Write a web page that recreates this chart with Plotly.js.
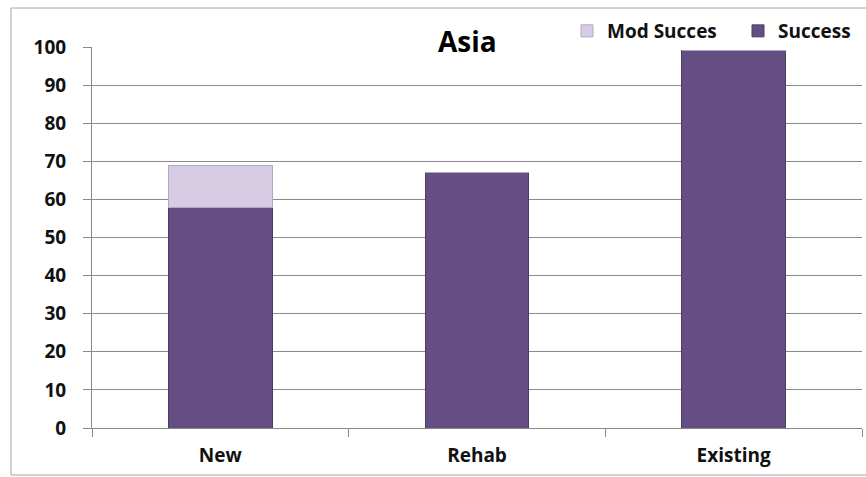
<!DOCTYPE html>
<html><head><meta charset="utf-8">
<script src="https://cdn.plot.ly/plotly-3.0.1.min.js"></script>
<style>html,body{margin:0;padding:0;background:#fff}#c{width:866px;height:477px}</style>
</head><body><div id="c"></div>
<script>
const categories = ["New", "Rehab", "Existing"];
const success = [58, 67, 99];
const modSucces = [11, 0, 0];
const yTicks = [0,10,20,30,40,50,60,70,80,90,100];
const FONT = '"Open Sans", Lato, sans-serif';

const traces = [
  {type:'bar', name:'Success', x:categories, y:success, width:0.405,
   marker:{color:'#654f82', line:{color:'#4e3c66', width:1}}},
  {type:'bar', name:'Mod Succes', x:categories, y:modSucces, width:0.405,
   marker:{color:'#d6cde4', line:{color:'#b3a5c8', width:1}}}
];

const layout = {
  width:866, height:477,
  margin:{l:92, r:4, t:47, b:49, autoexpand:false},
  barmode:'stack',
  paper_bgcolor:'#fff', plot_bgcolor:'#fff',
  font:{family:FONT, color:'#111', size:15},
  showlegend:true,
  legend:{orientation:'h', x:(567-92)/770, xanchor:'left', y:(428-31)/381, yanchor:'middle',
    traceorder:'reversed', font:{family:FONT, size:19, color:'#111', weight:'bold'},
    bgcolor:'rgba(0,0,0,0)', itemwidth:30, entrywidth:126},
  xaxis:{type:'category', showgrid:false, showline:true, linecolor:'#888', linewidth:1,
    ticks:'outside', tickson:'boundaries', ticklen:8, tickcolor:'#888',
    tickfont:{family:FONT, size:19, color:'#111', weight:'bold'}, ticklabelstandoff:10},
  yaxis:{range:[0,100], tickvals:yTicks, showgrid:true, gridcolor:'#8a8a8a', gridwidth:1,
    showline:true, linecolor:'#888', linewidth:1, zeroline:false,
    ticks:'outside', ticklen:8, tickcolor:'#888', ticklabelstandoff:13,
    tickfont:{family:FONT, size:19, color:'#111', weight:'bold'}},
  shapes:[
    {type:'rect', xref:'paper', yref:'paper', x0:(11-92)/770, x1:1.2, y0:(428-475)/381, y1:(428-8)/381,
     line:{color:'#a6a6a6', width:1}, fillcolor:'rgba(0,0,0,0)', layer:'below'},
    {type:'rect', xref:'paper', yref:'paper', x0:(410-92)/770, x1:(525-92)/770, y0:(428-49)/381, y1:(428-28)/381,
     line:{width:0}, fillcolor:'#fff', layer:'above'},
    {type:'rect', xref:'paper', yref:'paper', x0:(556-92)/770, x1:1.1, y0:(428-48.3)/381, y1:(428-15)/381,
     line:{width:0}, fillcolor:'#fff', layer:'above'}
  ],
  annotations:[
    {text:'Asia', xref:'paper', yref:'paper', x:(467-92)/770, y:(428-41)/381, xanchor:'center', yanchor:'middle',
     showarrow:false, font:{family:FONT, size:28, color:'#000', weight:'bold'}}
  ]
};
Plotly.newPlot('c', traces, layout, {displayModeBar:false, staticPlot:true});
</script></body></html>
